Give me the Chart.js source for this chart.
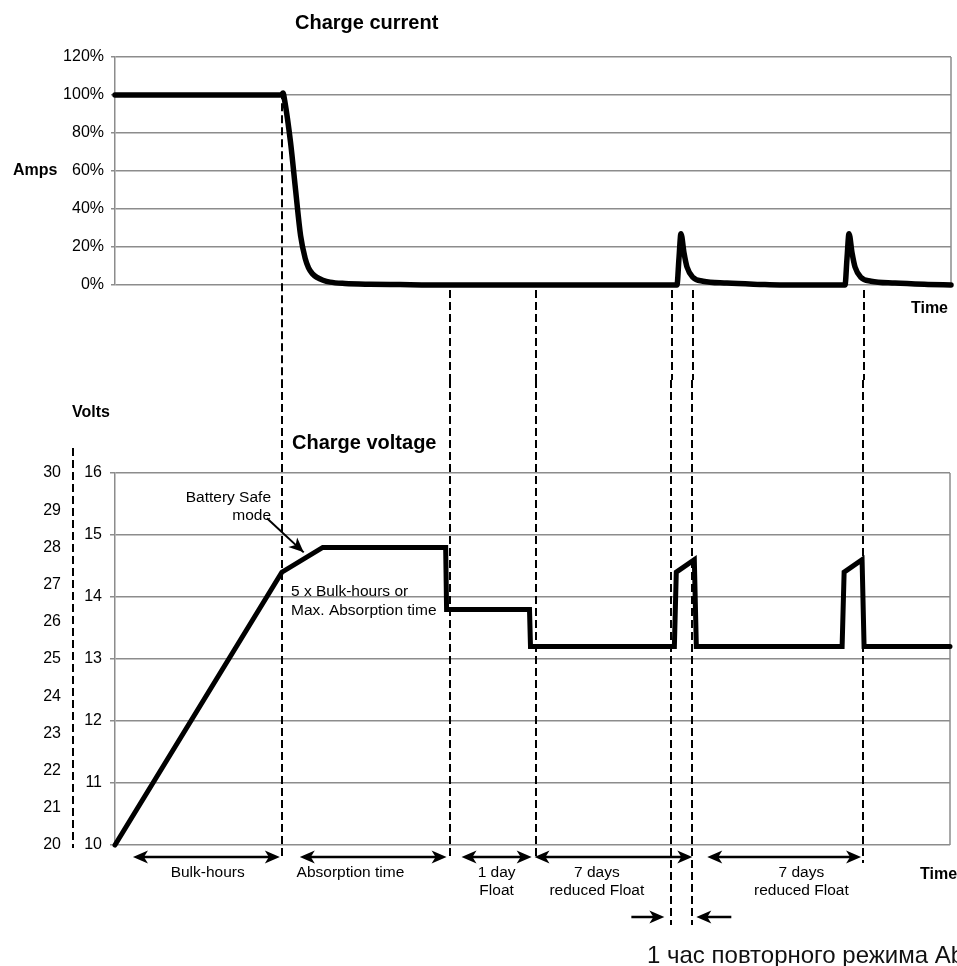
<!DOCTYPE html>
<html>
<head>
<meta charset="utf-8">
<script src="https://cdn.jsdelivr.net/npm/chart.js@4.4.1/dist/chart.umd.min.js"></script>
<style>
  html, body { margin: 0; padding: 0; background: #fff; }
  #page { position: relative; width: 957px; height: 966px; overflow: hidden; background: #fff; }
  #page canvas { position: absolute; left: 0; }
  #currentChart { top: 0; }
  #voltageChart { top: 380px; }
</style>
</head>
<body>
<div id="page">
  <canvas id="currentChart" width="957" height="380"></canvas>
  <canvas id="voltageChart" width="957" height="586"></canvas>
</div>
<script>
// Time runs in arbitrary units, 0..100 across the plot
const timeMin = 0;
const timeMax = 100;

// Charge current, % of max
const currentTime = [0, 19.86, 20.1, 20.3, 21.0, 21.6, 22.2, 22.75, 23.15, 23.6, 24.16, 24.88, 25.72, 27.51, 30.5, 34.1, 37.7,
  67.22, 67.46, 67.7, 68.06, 68.42, 69.14, 70.33, 73.2, 77.15, 79.5,
  87.32, 87.56, 87.8, 88.16, 88.52, 89.23, 90.43, 93.3, 97.25, 100];
const currentPct = [100, 100, 101, 97, 75, 50, 26, 14, 9, 6, 4, 2.5, 1.5, 0.8, 0.4, 0.2, 0,
  0, 14, 27, 17, 9.5, 4, 2, 1, 0.3, 0,
  0, 14, 27, 17, 9.5, 4, 2, 1, 0.3, 0];
const currentTicks = [0, 20, 40, 60, 80, 100, 120];

// Charge voltage, 12 V system (24 V on the outer scale)
const voltageTime = [0, 19.98, 24.88, 39.6, 39.71, 49.64, 49.76, 66.99, 67.22, 69.38, 69.62, 87.08, 87.32, 89.47, 89.71, 100];
const voltageVal = [10, 14.4, 14.8, 14.8, 13.8, 13.8, 13.2, 13.2, 14.4, 14.6, 13.2, 13.2, 14.4, 14.6, 13.2, 13.2];
const volt12Ticks = [10, 11, 12, 13, 14, 15, 16];
const volt24Ticks = [20, 21, 22, 23, 24, 25, 26, 27, 28, 29, 30];

// Phase boundaries (dashed verticals) and phase spans
const phaseBounds = [19.98, 40.07, 50.36, 66.63, 69.14, 89.59];
const phaseFrom = [2.15, 22.13, 41.5, 50.24, 70.93];
const phaseTo = [19.74, 39.71, 49.9, 69.14, 89.35];
const phaseLabelAt = [11.1, 28.2, 45.7, 57.7, 82.2];
const phaseLabels = [['Bulk-hours'], ['Absorption time'], ['1 day', 'Float'], ['7 days', 'reduced Float'], ['7 days', 'reduced Float']];

const FONT = '"Liberation Sans", Arial, Helvetica, sans-serif';
const GRID = '#8c8c8c';
// how far each dashed line runs below the voltage plot
const boundTail = [15, 12, 12, 80, 80, 18];

function toPoints(xs, ys) {
    return xs.map((t, i) => ({ x: t, y: ys[i] }));
}

function arrowHead(ctx, x, y, dir) {
    ctx.beginPath();
    ctx.moveTo(x, y);
    ctx.lineTo(x - dir * 15, y - 6.5);
    ctx.lineTo(x - dir * 11, y);
    ctx.lineTo(x - dir * 15, y + 6.5);
    ctx.closePath();
    ctx.fill();
}

function rightFrame(ctx, a) {
    ctx.strokeStyle = GRID;
    ctx.lineWidth = 1.5;
    ctx.beginPath();
    ctx.moveTo(a.right, a.top);
    ctx.lineTo(a.right, a.bottom);
    ctx.stroke();
}

// Top panel decorations
const currentDecor = {
    id: 'currentDecor',
    beforeDatasetsDraw(chart) {
        const { ctx, chartArea: a, scales: { x, y } } = chart;
        ctx.save();
        rightFrame(ctx, a);
        ctx.strokeStyle = '#000';
        ctx.lineWidth = 2;
        ctx.setLineDash([8, 4]);
        phaseBounds.forEach((t, i) => {
            const px = Math.round(x.getPixelForValue(t));
            const top = i === 0 ? y.getPixelForValue(102) : y.getPixelForValue(0) + 5;
            ctx.beginPath();
            ctx.moveTo(px, top);
            ctx.lineTo(px, chart.height);
            ctx.stroke();
        });
        ctx.restore();
    },
    afterDraw(chart) {
        const { ctx, chartArea: a, scales: { y } } = chart;
        ctx.save();
        ctx.fillStyle = '#000';
        ctx.textBaseline = 'middle';
        ctx.textAlign = 'left';
        ctx.font = 'bold 20px ' + FONT;
        ctx.fillText('Charge current', 295, 23);
        ctx.font = 'bold 16px ' + FONT;
        ctx.fillText('Amps', 13, y.getPixelForValue(60));
        ctx.textAlign = 'right';
        ctx.fillText('Time', a.right - 3, a.bottom + 24);
        ctx.restore();
    }
};

// Bottom panel decorations
const voltageDecor = {
    id: 'voltageDecor',
    beforeDatasetsDraw(chart) {
        const { ctx, chartArea: a, scales: { x, yOut } } = chart;
        ctx.save();
        rightFrame(ctx, a);
        ctx.strokeStyle = '#000';
        ctx.lineWidth = 2;
        ctx.setLineDash([8, 4]);
        // dashed outer (24 V) axis line
        ctx.beginPath();
        ctx.moveTo(yOut.right, a.top - 25);
        ctx.lineTo(yOut.right, a.bottom + 3);
        ctx.stroke();
        phaseBounds.forEach((t, i) => {
            const px = Math.round(x.getPixelForValue(t));
            ctx.beginPath();
            ctx.moveTo(px, 0);
            ctx.lineTo(px, a.bottom + boundTail[i]);
            ctx.stroke();
        });
        ctx.restore();
    },
    afterDraw(chart) {
        const { ctx, chartArea: a, scales: { x, y } } = chart;
        ctx.save();
        ctx.fillStyle = '#000';
        ctx.strokeStyle = '#000';
        ctx.textBaseline = 'middle';

        ctx.textAlign = 'left';
        ctx.font = 'bold 16px ' + FONT;
        ctx.fillText('Volts', 72, 33);
        ctx.font = 'bold 20px ' + FONT;
        ctx.fillText('Charge voltage', 292, 63);

        // Battery Safe note with arrow
        ctx.font = '15.5px ' + FONT;
        ctx.textAlign = 'right';
        ctx.fillText('Battery Safe', 271, 118);
        ctx.fillText('mode', 271, 136);
        const sx = x.getPixelForValue(18.2), sy = y.getPixelForValue(15.27);
        const ex = x.getPixelForValue(22.6), ey = y.getPixelForValue(14.72);
        ctx.lineWidth = 2;
        ctx.beginPath();
        ctx.moveTo(sx, sy);
        ctx.lineTo(ex, ey);
        ctx.stroke();
        const ang = Math.atan2(ey - sy, ex - sx);
        ctx.save();
        ctx.translate(ex, ey);
        ctx.rotate(ang);
        arrowHead(ctx, 0, 0, 1);
        ctx.restore();

        ctx.textAlign = 'left';
        ctx.fillText('5 x Bulk-hours or', 291, 212);
        ctx.fillText('Max. Absorption time', 291, 231);

        // phase spans
        const ay = a.bottom + 12;
        ctx.lineWidth = 2.5;
        phaseFrom.forEach((t, i) => {
            const x1 = x.getPixelForValue(t), x2 = x.getPixelForValue(phaseTo[i]);
            ctx.beginPath();
            ctx.moveTo(x1 + 8, ay);
            ctx.lineTo(x2 - 8, ay);
            ctx.stroke();
            arrowHead(ctx, x1, ay, -1);
            arrowHead(ctx, x2, ay, 1);
            ctx.textAlign = 'center';
            phaseLabels[i].forEach((line, k) => {
                ctx.fillText(line, x.getPixelForValue(phaseLabelAt[i]), ay + 16 + k * 18);
            });
        });

        // the short re-absorption hour
        const sy2 = a.bottom + 72;
        const rIn = x.getPixelForValue(phaseBounds[3]) - 7, lIn = x.getPixelForValue(phaseBounds[4]) + 4;
        ctx.beginPath();
        ctx.moveTo(rIn - 33, sy2);
        ctx.lineTo(rIn - 6, sy2);
        ctx.moveTo(lIn + 6, sy2);
        ctx.lineTo(lIn + 35, sy2);
        ctx.stroke();
        arrowHead(ctx, rIn, sy2, 1);
        arrowHead(ctx, lIn, sy2, -1);

        ctx.textAlign = 'left';
        ctx.font = 'bold 16px ' + FONT;
        ctx.fillText('Time', 920, a.bottom + 30);

        ctx.font = '24px ' + FONT;
        ctx.textBaseline = 'alphabetic';
        ctx.fillStyle = '#111';
        ctx.fillText('1 час повторного режима Absorption', 647, 583);
        ctx.restore();
    }
};

const baseOptions = {
    responsive: false,
    animation: false,
    events: [],
    plugins: { legend: { display: false }, tooltip: { enabled: false } }
};

new Chart(document.getElementById('currentChart'), {
    type: 'line',
    data: {
        datasets: [{
            data: toPoints(currentTime, currentPct),
            borderColor: '#000',
            borderWidth: 5.5,
            pointRadius: 0,
            cubicInterpolationMode: 'monotone',
            borderJoinStyle: 'round',
            borderCapStyle: 'round',
            clip: false
        }]
    },
    options: {
        ...baseOptions,
        layout: { padding: { top: 57, right: 6, bottom: 95, left: 0 } },
        scales: {
            x: { type: 'linear', min: timeMin, max: timeMax, display: false },
            y: {
                min: 0, max: 120,
                afterBuildTicks: s => { s.ticks = currentTicks.map(v => ({ value: v })); },
                afterFit: s => { s.width = 115; },
                ticks: { color: '#000', font: { family: FONT, size: 16 }, padding: 7, callback: v => v + '%' },
                grid: { color: GRID, lineWidth: 1.5, tickLength: 4 },
                border: { color: GRID, width: 1.5 }
            }
        }
    },
    plugins: [currentDecor]
});

new Chart(document.getElementById('voltageChart'), {
    type: 'line',
    data: {
        datasets: [{
            data: toPoints(voltageTime, voltageVal),
            borderColor: '#000',
            borderWidth: 5,
            pointRadius: 0,
            tension: 0,
            borderJoinStyle: 'miter',
            borderCapStyle: 'round',
            clip: false,
            yAxisID: 'y'
        }]
    },
    options: {
        ...baseOptions,
        layout: { padding: { top: 93, right: 7, bottom: 121, left: 0 } },
        scales: {
            x: { type: 'linear', min: timeMin, max: timeMax, display: false },
            yOut: {
                position: 'left',
                weight: 10,
                min: 20, max: 30,
                afterBuildTicks: s => { s.ticks = volt24Ticks.map(v => ({ value: v })); },
                afterFit: s => { s.width = 73; },
                ticks: { color: '#000', font: { family: FONT, size: 16 }, padding: 12 },
                grid: { display: false, drawTicks: false },
                border: { display: false }
            },
            y: {
                position: 'left',
                weight: 0,
                min: 10, max: 16,
                afterBuildTicks: s => { s.ticks = volt12Ticks.map(v => ({ value: v })); },
                afterFit: s => { s.width = 42; },
                ticks: { color: '#000', font: { family: FONT, size: 16 }, padding: 8 },
                grid: { color: GRID, lineWidth: 1.5, tickLength: 5 },
                border: { color: GRID, width: 1.5 }
            }
        }
    },
    plugins: [voltageDecor]
});
</script>
</body>
</html>
